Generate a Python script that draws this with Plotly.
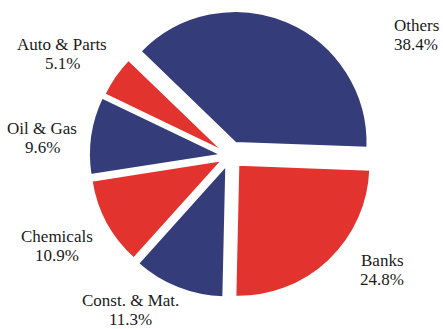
import plotly.graph_objects as go

# Data
sectors = ["Others", "Banks", "Const. & Mat.", "Chemicals", "Oil & Gas", "Auto & Parts"]
shares = [38.4, 24.8, 11.3, 10.9, 9.6, 5.1]

# Styles / layout
NAVY = "#353C7A"
RED = "#E3332E"
colors = [NAVY, RED, NAVY, RED, NAVY, RED]
pulls = [0.107, 0.092, 0.076, 0.069, 0.069, 0.061]
# label block centres in pixels (x, y from top)
label_px = [
    (416, 35),
    (382, 270),
    (130, 310),
    (57, 246),
    (42, 138),
    (62, 54),
]

W, H = 443, 329
cx, cy, r = 230, 156, 132
half = r * (1 + max(pulls))

fig = go.Figure(go.Pie(
    labels=sectors,
    values=shares,
    sort=False,
    direction="clockwise",
    rotation=-46,
    pull=pulls,
    marker=dict(colors=colors, line=dict(color="white", width=2)),
    textinfo="none",
    hoverinfo="label+percent",
    showlegend=False,
    domain=dict(x=[(cx - half) / W, (cx + half) / W],
                y=[(H - cy - half) / H, (H - cy + half) / H]),
))

font = dict(family="Liberation Serif", size=17, color="#1a1a1a")
for name, val, (px, py) in zip(sectors, shares, label_px):
    for txt, shift in ((name, 9.5), (f"{val:.1f}%", -9.5)):
        fig.add_annotation(
            x=px / W, y=1 - py / H, xref="paper", yref="paper",
            text=txt, yshift=shift,
            showarrow=False, xanchor="center", yanchor="middle",
            font=font,
        )

fig.update_layout(
    width=W, height=H,
    margin=dict(l=0, r=0, t=0, b=0),
    paper_bgcolor="white", plot_bgcolor="white",
)

fig.write_html(
    "out.html",
    config={"displayModeBar": False},
    post_script="document.body.style.margin='0';document.body.style.overflow='hidden';",
)
